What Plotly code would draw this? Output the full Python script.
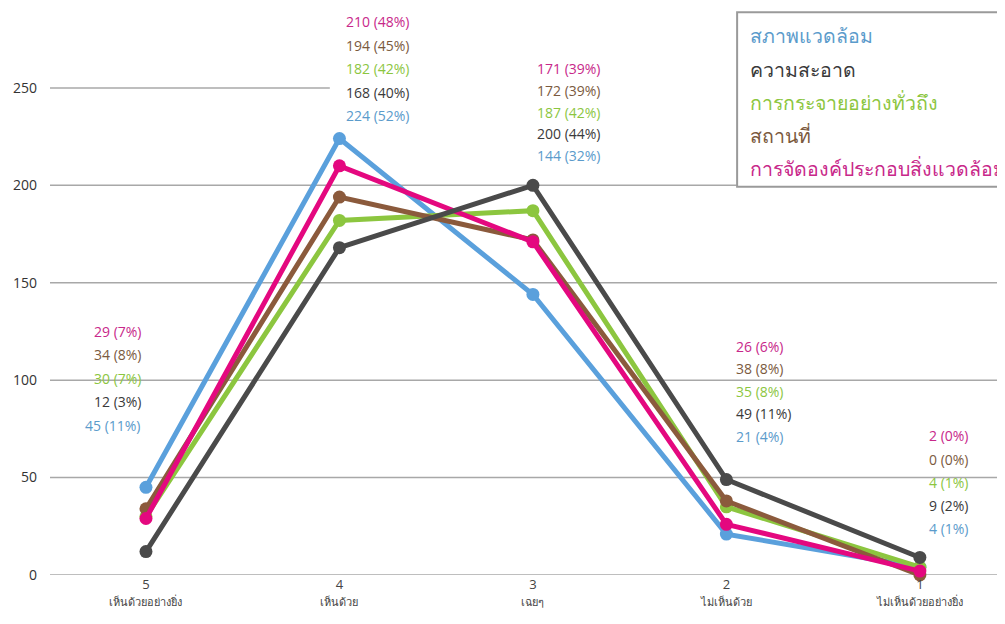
import plotly.graph_objects as go

# Likert categories (5 = strongly agree ... 1 = strongly disagree)
scores = ["5", "4", "3", "2", "1"]
score_names = ["เห็นด้วยอย่างยิ่ง", "เห็นด้วย", "เฉยๆ", "ไม่เห็นด้วย", "ไม่เห็นด้วยอย่างยิ่ง"]

series_names = [
    "สภาพแวดล้อม",
    "ความสะอาด",
    "การกระจายอย่างทั่วถึง",
    "สถานที่",
    "การจัดองค์ประกอบสิ่งแวดล้อม",
]

environment = [45, 224, 144, 21, 4]
environment_pct = [11, 52, 32, 4, 1]
cleanliness = [12, 168, 200, 49, 9]
cleanliness_pct = [3, 40, 44, 11, 2]
distribution = [30, 182, 187, 35, 4]
distribution_pct = [7, 42, 42, 8, 1]
location = [34, 194, 172, 38, 0]
location_pct = [8, 45, 39, 8, 0]
composition = [29, 210, 171, 26, 2]
composition_pct = [7, 48, 39, 6, 0]

y_ticks = [0, 50, 100, 150, 200, 250]

LINE_COLORS = ["#5aa0dc", "#4a4a4a", "#8cc63f", "#8b5a3c", "#e4087f"]
TEXT_COLORS = ["#5b9bcb", "#3a3a3a", "#8cc63f", "#7b5a3e", "#c8288a"]
FONT = "Open Sans, Noto Sans, sans-serif"

values = [environment, cleanliness, distribution, location, composition]
pcts = [environment_pct, cleanliness_pct, distribution_pct, location_pct, composition_pct]
xpos = list(range(len(scores)))

fig = go.Figure()

# draw order: back to front
for i in [0, 2, 3, 4, 1]:
    fig.add_trace(go.Scatter(
        x=xpos, y=values[i], mode="lines+markers", name=series_names[i],
        line={"color": LINE_COLORS[i], "width": 5},
        marker={"color": LINE_COLORS[i], "size": 13},
        cliponaxis=False, showlegend=False,
    ))

# gridlines
for t in y_ticks:
    fig.add_shape(
        type="line", xref="paper", yref="y", x0=0, x1=0.293 if t == 250 else 1.01,
        y0=t, y1=t, line={"color": "#a8a8a8", "width": 1.5}, layer="below",
    )

# value label stacks: per category, top label y (data) and horizontal placement
stack_top = [125, 284, 260, 117.5, 71.4]
stack_anchor = [("right", -3), ("left", 5), ("left", 2), ("left", 8), ("left", 7)]
stack_order = [4, 3, 2, 1, 0]  # magenta, brown, green, gray, blue
step = [23.5, 23.5, 21.8, 22.5, 23.2]
for c in xpos:
    anchor, dx = stack_anchor[c]
    for k, s in enumerate(stack_order):
        fig.add_annotation(
            x=c, y=stack_top[c], xref="x", yref="y",
            text=f"{values[s][c]} ({pcts[s][c]}%)", showarrow=False,
            xanchor=anchor, yanchor="middle", xshift=dx, yshift=-step[c] * k,
            font={"family": FONT, "size": 14, "color": TEXT_COLORS[s]},
        )

# legend box
fig.add_shape(
    type="rect", xref="paper", yref="paper", x0=0.7195, x1=1.03, y0=0.687, y1=0.996,
    line={"color": "#9a9a9a", "width": 2}, fillcolor="white", layer="above",
)
for k, name in enumerate(series_names):
    fig.add_annotation(
        x=0.731, y=0.954 - k * 0.0588, xref="paper", yref="paper",
        text=name, showarrow=False, xanchor="left", yanchor="middle",
        font={"family": FONT, "size": 19.5, "color": TEXT_COLORS[k]},
    )

fig.update_xaxes(
    range=[-0.496, 4.44],
    tickvals=xpos,
    ticktext=[f"{s}<br><span style='font-size:11px'>{n}</span>" for s, n in zip(scores, score_names)],
    tickfont={"family": FONT, "size": 13, "color": "#444"},
    showgrid=False, zeroline=False, showline=False, ticks="",
)
fig.update_yaxes(
    range=[0, 290], tickvals=y_ticks, showgrid=False, zeroline=False,
    tickfont={"family": FONT, "size": 14, "color": "#333"},
    ticklabelstandoff=12,
)
# the page body adds an 8px offset, so the figure is sized to end at the window edge
fig.update_layout(
    width=997, height=608,
    margin={"l": 42, "r": 0, "t": 2, "b": 41},
    plot_bgcolor="white", paper_bgcolor="white",
    font={"family": FONT},
)

fig.write_html("out.html")
